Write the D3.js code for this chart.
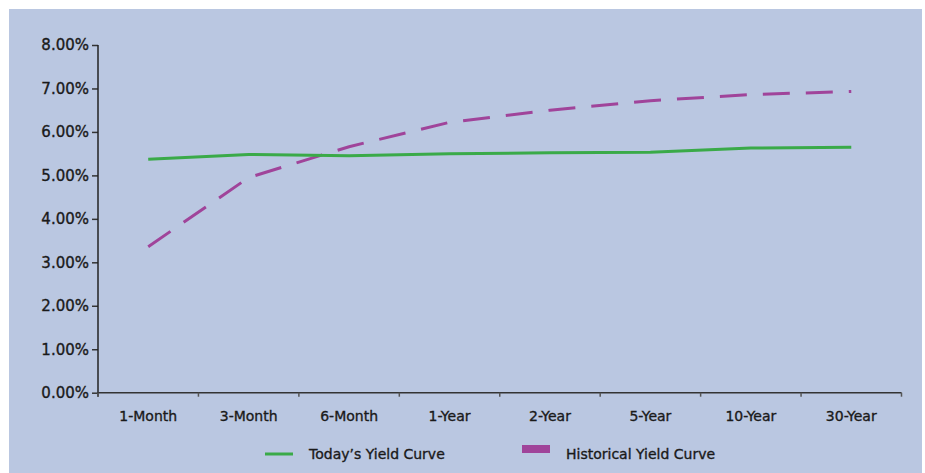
<!DOCTYPE html>
<html><head><meta charset="utf-8">
<script src="https://cdn.jsdelivr.net/npm/d3@7"></script>
<style>html,body{margin:0;padding:0;background:#fff;}svg{display:block;}</style>
</head><body>
<script>
const categories = ["1-Month","3-Month","6-Month","1-Year","2-Year","5-Year","10-Year","30-Year"];
const todayYield = [5.37,5.48,5.45,5.50,5.52,5.53,5.63,5.65];
const historicalYield = [3.36,4.95,5.66,6.22,6.50,6.72,6.86,6.93];
const yTicks = [0,1,2,3,4,5,6,7,8];
const seriesNames = ["Today\u2019s Yield Curve","Historical Yield Curve"];

const W = 925, H = 473;
const svg = d3.select("body").append("svg").attr("width", W).attr("height", H);
svg.append("rect").attr("x", 9).attr("y", 9).attr("width", 913).attr("height", H - 9).attr("fill", "#bac7e1");

const x = d3.scaleBand().domain(categories).range([98, 901.5]).padding(0);
const y = d3.scaleLinear().domain([0, 8]).range([392.7, 45]);
const axisColor = "#222";
const textStyle = sel => sel.attr("font-family", "DejaVu Sans, sans-serif").attr("fill", "#1a1a1a")
  .attr("stroke", "#1a1a1a").attr("stroke-width", 0.35);

// Y axis
const ya = svg.append("g").attr("transform", "translate(98,0)")
  .call(d3.axisLeft(y).tickValues(yTicks).tickSize(6).tickPadding(3).tickFormat(d => d.toFixed(2) + "%"));
ya.select(".domain").remove();
ya.append("line").attr("x1", 0).attr("x2", 0).attr("y1", y(8)).attr("y2", y(0) + 4).attr("stroke", axisColor).attr("stroke-width", 1.5);
ya.selectAll(".tick line").attr("stroke", "#333").attr("stroke-width", 1.5);
ya.selectAll("text").call(textStyle).attr("font-size", 15);

// X axis
const xa = svg.append("g").attr("transform", `translate(0,${y(0)})`)
  .call(d3.axisBottom(x).tickSize(0).tickPadding(18));
xa.select(".domain").remove();
xa.append("line").attr("x1", 98).attr("x2", 901.5).attr("stroke", "#333").attr("stroke-width", 1.5);
const bounds = categories.map(c => x(c)).concat([x.range()[1]]);
xa.selectAll(".bt").data(bounds).enter().append("line").attr("class", "bt")
  .attr("x1", d => d).attr("x2", d => d).attr("y1", 0).attr("y2", 4).attr("stroke", "#555").attr("stroke-width", 1.5);
xa.selectAll("text").call(textStyle).attr("font-size", 14);

const cx = c => x(c) + x.bandwidth() / 2;
const line = d3.line().x((d, i) => cx(categories[i])).y(d => y(d));

svg.append("path").datum(historicalYield).attr("d", line).attr("fill", "none")
  .attr("stroke", "#a0449a").attr("stroke-width", 3).attr("stroke-dasharray", "27,16");
svg.append("path").datum(todayYield).attr("d", line).attr("fill", "none")
  .attr("stroke", "#3aaa48").attr("stroke-width", 3);

// Legend
const lg = svg.append("g").attr("font-size", 14).call(textStyle);
lg.append("line").attr("x1", 265).attr("x2", 293).attr("y1", 454).attr("y2", 454).attr("stroke", "#3aaa48").attr("stroke-width", 3);
lg.append("text").attr("x", 309).attr("y", 459).text(seriesNames[0]);
lg.append("rect").attr("x", 522).attr("y", 445).attr("width", 28).attr("height", 8).attr("fill", "#a0449a").attr("stroke", "none");
lg.append("text").attr("x", 566).attr("y", 459).text(seriesNames[1]);
</script>
</body></html>
